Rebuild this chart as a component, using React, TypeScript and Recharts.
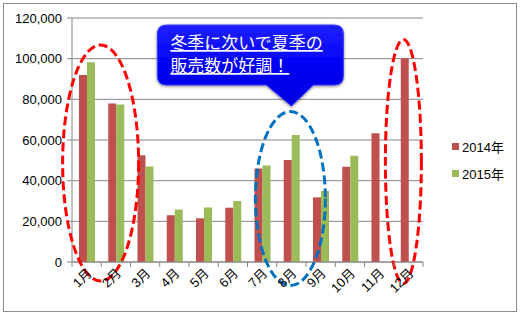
import { BarChart, Bar, XAxis, YAxis, CartesianGrid, ReferenceDot } from "recharts";

const months = ["1月", "2月", "3月", "4月", "5月", "6月", "7月", "8月", "9月", "10月", "11月", "12月"];
const sales2014 = [92000, 78000, 52500, 23000, 21500, 26700, 46000, 50200, 31800, 46900, 63300, 100200];
const sales2015 = [98200, 77500, 47000, 25800, 26800, 30000, 47400, 62500, 35000, 52200, null, null];
const yTicks = [0, 20000, 40000, 60000, 80000, 100000, 120000];

const seriesNames = ["2014年", "2015年"];
const seriesColors = ["#C0504D", "#9BBB59"];

// annotation anchors: category, value at centre, size, colour
const ellipses = [
  { month: "1月", value: 48700, dx: 14, rx: 38, ry: 118, color: "#FF0000" },
  { month: "8月", value: 31200, dx: -1, rx: 35, ry: 87, color: "#0070C0" },
  { month: "12月", value: 49400, dx: -5, rx: 18, ry: 122, color: "#FF0000" },
];
const calloutLines = ["冬季に次いで夏季の", "販売数が好調！"];
const calloutMonth = "8月";
const calloutValue = 76700;

const data = months.map((m, i) => ({ month: m, y2014: sales2014[i], y2015: sales2015[i] }));

const BAND = 351 / 12;
const FONT = "'Liberation Sans', 'Noto Sans CJK JP', sans-serif";
const AXIS_Y = 262;

const XTick = (props) => {
  const { x, payload, index } = props;
  const half = BAND / 2;
  const y = AXIS_Y;
  return (
    <g>
      <line x1={x - half} y1={y} x2={x - half} y2={y + 5} stroke="#868686" />
      {index === months.length - 1 && (
        <line x1={x + half} y1={y} x2={x + half} y2={y + 5} stroke="#868686" />
      )}
      <text
        x={x + 6}
        y={y + 12}
        textAnchor="end"
        fontSize={13}
        fontFamily={FONT}
        fill="#000"
        transform={`rotate(-45, ${x + 6}, ${y + 12})`}
      >
        {payload.value}
      </text>
    </g>
  );
};

const renderEllipse = (e) => (props) => {
  const { cx, cy } = props;
  return (
    <ellipse
      cx={cx + e.dx}
      cy={cy}
      rx={e.rx}
      ry={e.ry}
      fill="none"
      stroke={e.color}
      strokeWidth={3}
      strokeDasharray="9 4"
    />
  );
};

const renderCallout = (props) => {
  const { cx, cy } = props;
  const l = cx - 134;
  const r = cx + 52;
  const t = cy - 81;
  const b = cy - 21;
  const rad = 9;
  const d = `M${l + rad},${t} L${r - rad},${t} Q${r},${t} ${r},${t + rad} L${r},${b - rad} Q${r},${b} ${r - rad},${b}
    L${cx + 22},${b} L${cx},${cy} L${cx - 25},${b} L${l + rad},${b} Q${l},${b} ${l},${b - rad} L${l},${t + rad} Q${l},${t} ${l + rad},${t} Z`;
  return (
    <g>
      <defs>
        <linearGradient id="calloutFill" x1="0" y1="0" x2="0" y2="1">
          <stop offset="0" stopColor="#2020ff" />
          <stop offset="0.5" stopColor="#0000f4" />
          <stop offset="1" stopColor="#0000e0" />
        </linearGradient>
        <filter id="calloutShadow" x="-10%" y="-20%" width="120%" height="140%">
          <feDropShadow dx="0" dy="1" stdDeviation="1.5" floodColor="#000" floodOpacity="0.5" />
        </filter>
      </defs>
      <path d={d} fill="url(#calloutFill)" stroke="#3b3bff" strokeWidth={1} filter="url(#calloutShadow)" />
      {calloutLines.map((line, i) => (
        <text
          key={i}
          x={l + 13}
          y={cy - 57 + i * 23}
          fill="#fff"
          fontSize={17}
          fontFamily="'Noto Sans CJK JP', sans-serif"
          textDecoration="underline"
        >
          {line}
        </text>
      ))}
    </g>
  );
};

export default function App() {
  return (
    <div style={{ position: "absolute", left: 0, top: 0, width: 521, height: 317, background: "#fff" }}>
      <div
        style={{
          position: "absolute",
          left: 3,
          top: 3,
          width: 512,
          height: 307,
          border: "1px solid #8c8c8c",
        }}
      />
      <div style={{ position: "absolute", left: 0, top: 0 }}>
        <BarChart
          width={521}
          height={317}
          data={data}
          margin={{ top: 18, right: 98, bottom: 0, left: 0 }}
          barGap={0}
          barSize={8}
        >
          <CartesianGrid vertical={false} stroke="#868686" />
          <XAxis
            dataKey="month"
            interval={0}
            tickLine={false}
            height={55}
            axisLine={{ stroke: "#868686" }}
            tick={<XTick />}
          />
          <YAxis
            width={72}
            domain={[0, 120000]}
            ticks={yTicks}
            tickSize={5}
            tickMargin={5}
            tickLine={{ stroke: "#868686" }}
            axisLine={{ stroke: "#868686" }}
            tick={{ fontSize: 13, fill: "#000", fontFamily: FONT }}
            tickFormatter={(v) => v.toLocaleString("en-US")}
          />
          <Bar dataKey="y2014" name={seriesNames[0]} fill={seriesColors[0]} isAnimationActive={false} />
          <Bar dataKey="y2015" name={seriesNames[1]} fill={seriesColors[1]} isAnimationActive={false} />
          {ellipses.map((e) => (
            <ReferenceDot
              key={e.month}
              x={e.month}
              y={e.value}
              ifOverflow="visible"
              shape={renderEllipse(e)}
            />
          ))}
          <ReferenceDot x={calloutMonth} y={calloutValue} ifOverflow="visible" shape={renderCallout} />
        </BarChart>
      </div>
      <div
        style={{
          position: "absolute",
          left: 452,
          top: 133,
          fontFamily: FONT,
          fontSize: 13,
          color: "#000",
        }}
      >
        {seriesNames.map((name, i) => (
          <div key={name} style={{ display: "flex", alignItems: "center", height: 27 }}>
            <span style={{ width: 7, height: 7, background: seriesColors[i], marginRight: 3 }} />
            <span>{name}</span>
          </div>
        ))}
      </div>
    </div>
  );
}
